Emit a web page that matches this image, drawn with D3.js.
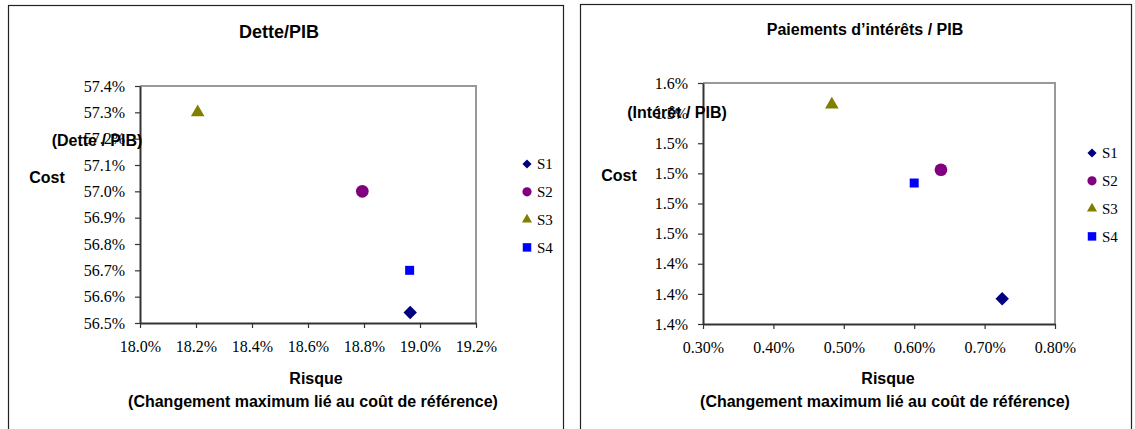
<!DOCTYPE html>
<html>
<head>
<meta charset="utf-8">
<style>
  body { margin: 0; background: #fff; }
  svg { display: block; }
  .lbl { font-family: "Liberation Sans", Arial, sans-serif; font-weight: bold; fill: #000; }
  .leg { font-family: "Liberation Serif", "Times New Roman", serif; font-size: 15px; fill: #000; }
</style>
</head>
<body>
<div id="chart"></div>
<script src="https://d3js.org/d3.v7.min.js"></script>
<script>
  // séries
  const series = ["S1", "S2", "S3", "S4"];
  const colors = ["#000080", "#800080", "#808000", "#0000FF"];

  // Dette/PIB (en %)
  const debtRisk = [18.965, 18.794, 18.206, 18.963];
  const debtCost = [56.54, 57.00, 57.30, 56.70];
  const debtXTicks = [18.0, 18.2, 18.4, 18.6, 18.8, 19.0, 19.2];
  const debtYTicks = [56.5, 56.6, 56.7, 56.8, 56.9, 57.0, 57.1, 57.2, 57.3, 57.4];

  // Paiements d'intérêts / PIB (en %)
  const intRisk = [0.725, 0.638, 0.483, 0.600];
  const intCost = [1.421, 1.528, 1.582, 1.517];
  const intXTicks = [0.30, 0.40, 0.50, 0.60, 0.70, 0.80];
  const intYTicks = [1.400, 1.425, 1.450, 1.475, 1.500, 1.525, 1.550, 1.575, 1.600];
  const intYLabels = ["1.4%", "1.4%", "1.4%", "1.5%", "1.5%", "1.5%", "1.5%", "1.5%", "1.6%"];

  const svg = d3.select("#chart").append("svg")
      .attr("width", 1135)
      .attr("height", 429);

  // marqueurs façon Excel
  const shapes = [d3.symbolSquare, d3.symbolCircle, d3.symbolTriangle, d3.symbolSquare];
  const rot = [45, 0, 0, 0];
  const bigSize = [90, 127, 80, 81];
  const smallSize = [42, 66, 44, 72];

  function drawPanel(p) {
    const g = svg.append("g");

    // cadre du graphique
    g.append("rect")
      .attr("x", p.box[0] + 0.5).attr("y", p.box[1] + 0.5)
      .attr("width", p.box[2]).attr("height", 460)
      .attr("fill", "#fff").attr("stroke", "#222").attr("stroke-width", 1.2);

    const x = d3.scaleLinear().domain(d3.extent(p.xTicks)).range([p.left, p.right]);
    const y = d3.scaleLinear().domain(d3.extent(p.yTicks)).range([p.bottom, p.top]);

    // bord haut / droit de la zone de tracé
    g.append("path")
      .attr("d", `M${p.left},${p.top}H${p.right}V${p.bottom}`)
      .attr("fill", "none").attr("stroke", "#999").attr("stroke-width", 2);

    const xAxis = g.append("g")
      .attr("transform", `translate(0,${p.bottom})`)
      .call(d3.axisBottom(x).tickValues(p.xTicks).tickSize(5).tickPadding(13)
        .tickFormat(p.xFormat).tickSizeOuter(0));

    const yAxis = g.append("g")
      .attr("transform", `translate(${p.left},0)`)
      .call(d3.axisLeft(y).tickValues(p.yTicks).tickSize(5).tickPadding(10)
        .tickFormat(p.yFormat).tickSizeOuter(0));

    [xAxis, yAxis].forEach(a => {
      a.attr("font-family", "'Liberation Serif', 'Times New Roman', serif")
        .attr("font-size", 16);
      a.selectAll(".tick text").attr("fill", "#000");
      a.select(".domain").attr("stroke", "#333").attr("stroke-width", 2);
      a.selectAll(".tick line").attr("stroke", "#333").attr("stroke-width", 1.2);
    });

    // points
    g.selectAll("path.pt")
      .data(series)
      .join("path")
      .attr("class", "pt")
      .attr("d", (d, i) => d3.symbol(shapes[i], bigSize[i])())
      .attr("transform", (d, i) => `translate(${x(p.xs[i])},${y(p.ys[i])}) rotate(${rot[i]})`)
      .attr("fill", (d, i) => colors[i]);

    // légende
    const leg = g.selectAll("g.legitem")
      .data(series)
      .join("g")
      .attr("class", "legitem")
      .attr("transform", (d, i) => `translate(${p.legX},${p.legY + i * 27.8})`);
    leg.append("path")
      .attr("d", (d, i) => d3.symbol(shapes[i], smallSize[i])())
      .attr("transform", (d, i) => `rotate(${rot[i]})`)
      .attr("fill", (d, i) => colors[i]);
    leg.append("text")
      .attr("class", "leg")
      .attr("x", 10).attr("dy", "0.35em")
      .text(d => d);

    // titres
    g.append("text").attr("class", "lbl")
      .attr("x", p.titleX).attr("y", p.titleY).attr("dy", "0.35em")
      .attr("text-anchor", "middle").style("font-size", p.titleSize + "px")
      .text(p.title);

    g.append("text").attr("class", "lbl")
      .attr("x", p.costX).attr("y", p.costY).attr("dy", "0.35em")
      .attr("text-anchor", "middle").style("font-size", "16px")
      .text("Cost");

    g.append("text").attr("class", "lbl")
      .attr("x", p.yLabX).attr("y", p.yLabY).attr("dy", "0.35em")
      .attr("text-anchor", "middle").style("font-size", "16px")
      .text(p.yLab);

    g.append("text").attr("class", "lbl")
      .attr("x", p.xLabX).attr("y", 378).attr("dy", "0.35em")
      .attr("text-anchor", "middle").style("font-size", "16px")
      .text("Risque");

    g.append("text").attr("class", "lbl")
      .attr("x", p.xLabX - 3).attr("y", 401).attr("dy", "0.35em")
      .attr("text-anchor", "middle").style("font-size", "16px")
      .text("(Changement maximum lié au coût de référence)");
  }

  drawPanel({
    box: [8, 5, 555],
    left: 140, right: 476, top: 86, bottom: 323,
    xTicks: debtXTicks, yTicks: debtYTicks,
    xFormat: d => d.toFixed(1) + "%",
    yFormat: d => d.toFixed(1) + "%",
    xs: debtRisk, ys: debtCost,
    legX: 527, legY: 164,
    title: "Dette/PIB", titleX: 279, titleY: 32, titleSize: 18,
    costX: 47, costY: 177,
    yLab: "(Dette / PIB)", yLabX: 97, yLabY: 140,
    xLabX: 316
  });

  drawPanel({
    box: [580, 4, 551],
    left: 703, right: 1055, top: 83, bottom: 324,
    xTicks: intXTicks, yTicks: intYTicks,
    xFormat: d => d.toFixed(2) + "%",
    yFormat: (d, i) => intYLabels[i],
    xs: intRisk, ys: intCost,
    legX: 1092, legY: 153,
    title: "Paiements d’intérêts / PIB", titleX: 865, titleY: 29, titleSize: 16,
    costX: 619, costY: 175,
    yLab: "(Intérêt / PIB)", yLabX: 677, yLabY: 112,
    xLabX: 888
  });
</script>
</body>
</html>
